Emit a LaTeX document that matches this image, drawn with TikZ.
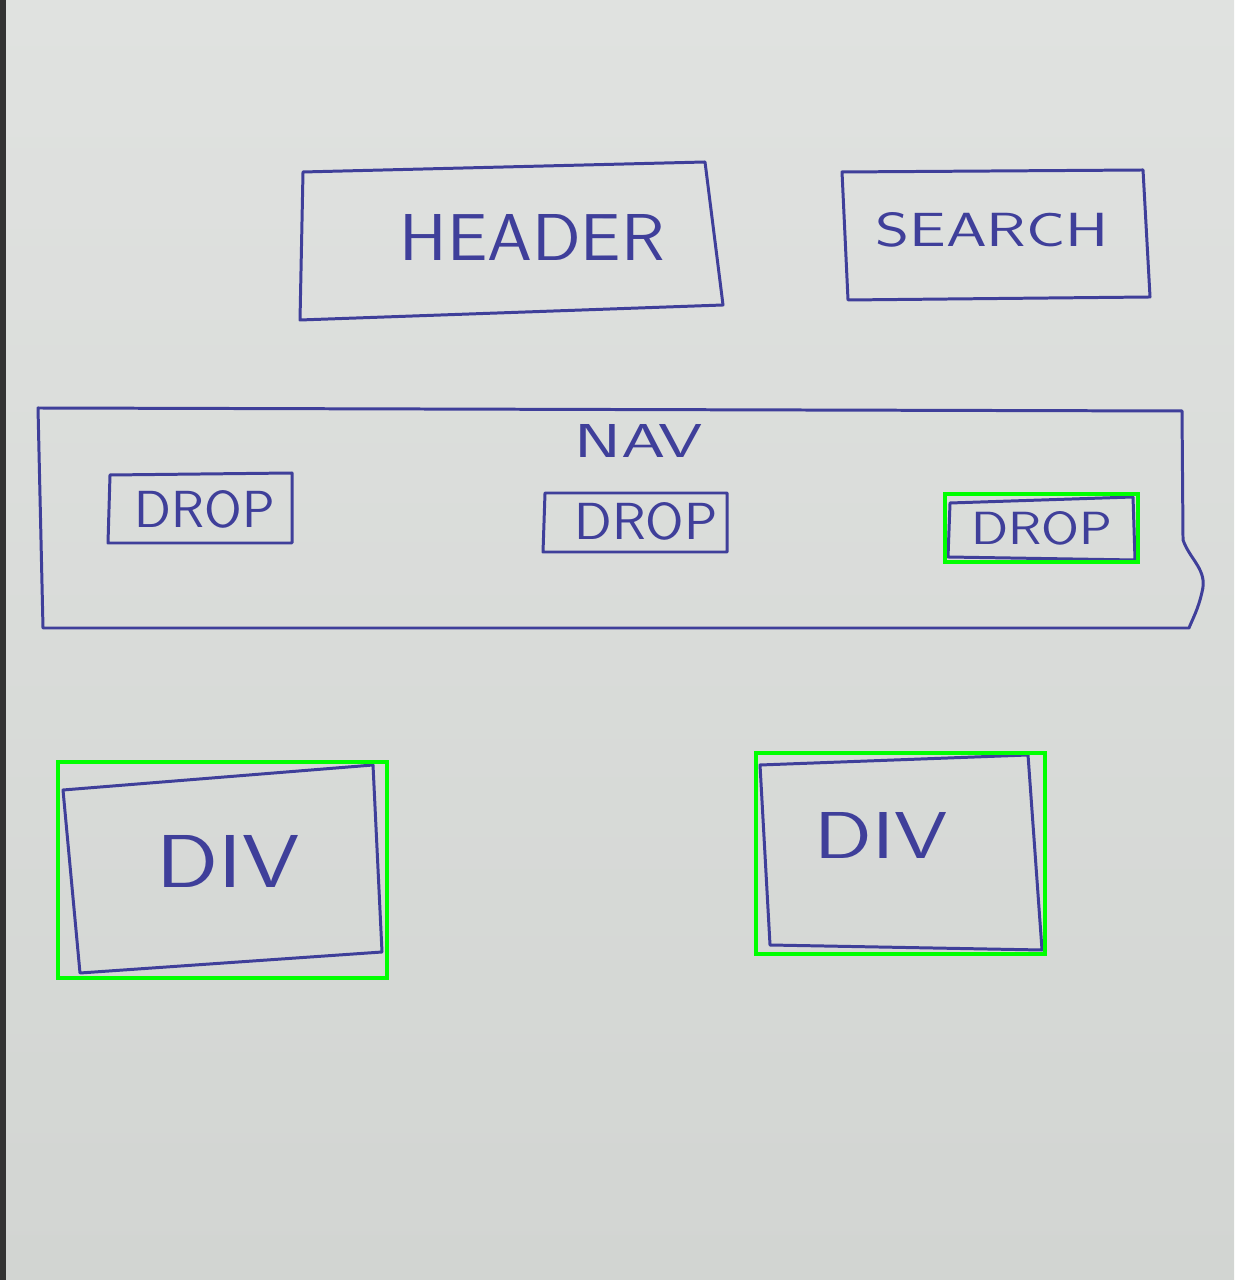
\documentclass[tikz,border=0pt]{standalone}
\usepackage{graphicx}
\definecolor{papertop}{HTML}{E0E2E0}
\definecolor{paperbot}{HTML}{D2D5D2}
\definecolor{ink}{HTML}{3F3F9A}
\definecolor{detect}{HTML}{00FF00}
\newcommand{\hwtext}[3]{\resizebox{#1}{#2}{\fontsize{17.28}{20}\sffamily\selectfont #3}}
\begin{document}
\begin{tikzpicture}[x=0.01cm,y=-0.01cm,
  sketch/.style={draw=ink,line width=0.85pt,line join=round,line cap=round},
  label/.style={text=ink,inner sep=0pt,anchor=center},
  detbox/.style={draw=detect,line width=0.9pt}]
\useasboundingbox (0,0) rectangle (1234,1280);
% paper
\shade[top color=papertop,bottom color=paperbot] (0,0) rectangle (1234,1280);
\fill[black!80] (0,0) rectangle (6,1280);
% HEADER
\draw[sketch] (303,172) -- (705,162) -- (723,305) -- (300,320) -- cycle;
\node[label] (header) at (532,237) {\hwtext{2.65cm}{0.46cm}{HEADER}};
% SEARCH
\draw[sketch] (842,172) -- (1143,170) -- (1150,297) -- (848,300) -- cycle;
\node[label] (search) at (992,230) {\hwtext{2.33cm}{0.34cm}{SEARCH}};
% NAV
\draw[sketch] (38,408) -- (1182,411) -- (1183,540)
  .. controls (1190,560) and (1208,570) .. (1202,592)
  .. controls (1198,610) and (1192,620) .. (1189,628)
  -- (43,628) -- cycle;
\node[label] (nav) at (639,441) {\hwtext{1.28cm}{0.33cm}{NAV}};
% DROPs
\draw[sketch] (110,475) -- (292,473) -- (292,543) -- (108,543) -- cycle;
\node[label] (drop1) at (205,509) {\hwtext{1.40cm}{0.37cm}{DROP}};
\draw[sketch] (545,493) -- (727,493) -- (727,552) -- (543,552) -- cycle;
\node[label] (drop2) at (646,521) {\hwtext{1.43cm}{0.37cm}{DROP}};
\draw[sketch] (950,503) -- (1133,497) -- (1135,560) -- (948,557) -- cycle;
\node[label] (drop3) at (1042,528) {\hwtext{1.41cm}{0.33cm}{DROP}};
% DIVs
\draw[sketch] (63,790) -- (373,765) -- (382,952) -- (80,973) -- cycle;
\node[label] (div1) at (228,861) {\hwtext{1.43cm}{0.52cm}{DIV}};
\draw[sketch] (760,765) -- (1028,755) -- (1042,950) -- (770,945) -- cycle;
\node[label] (div2) at (881,835) {\hwtext{1.33cm}{0.46cm}{DIV}};
% detection boxes
\draw[detbox] (945,494) rectangle (1138,562);
\draw[detbox] (58,762) rectangle (387,978);
\draw[detbox] (756,753) rectangle (1045,954);
\end{tikzpicture}
\end{document}
